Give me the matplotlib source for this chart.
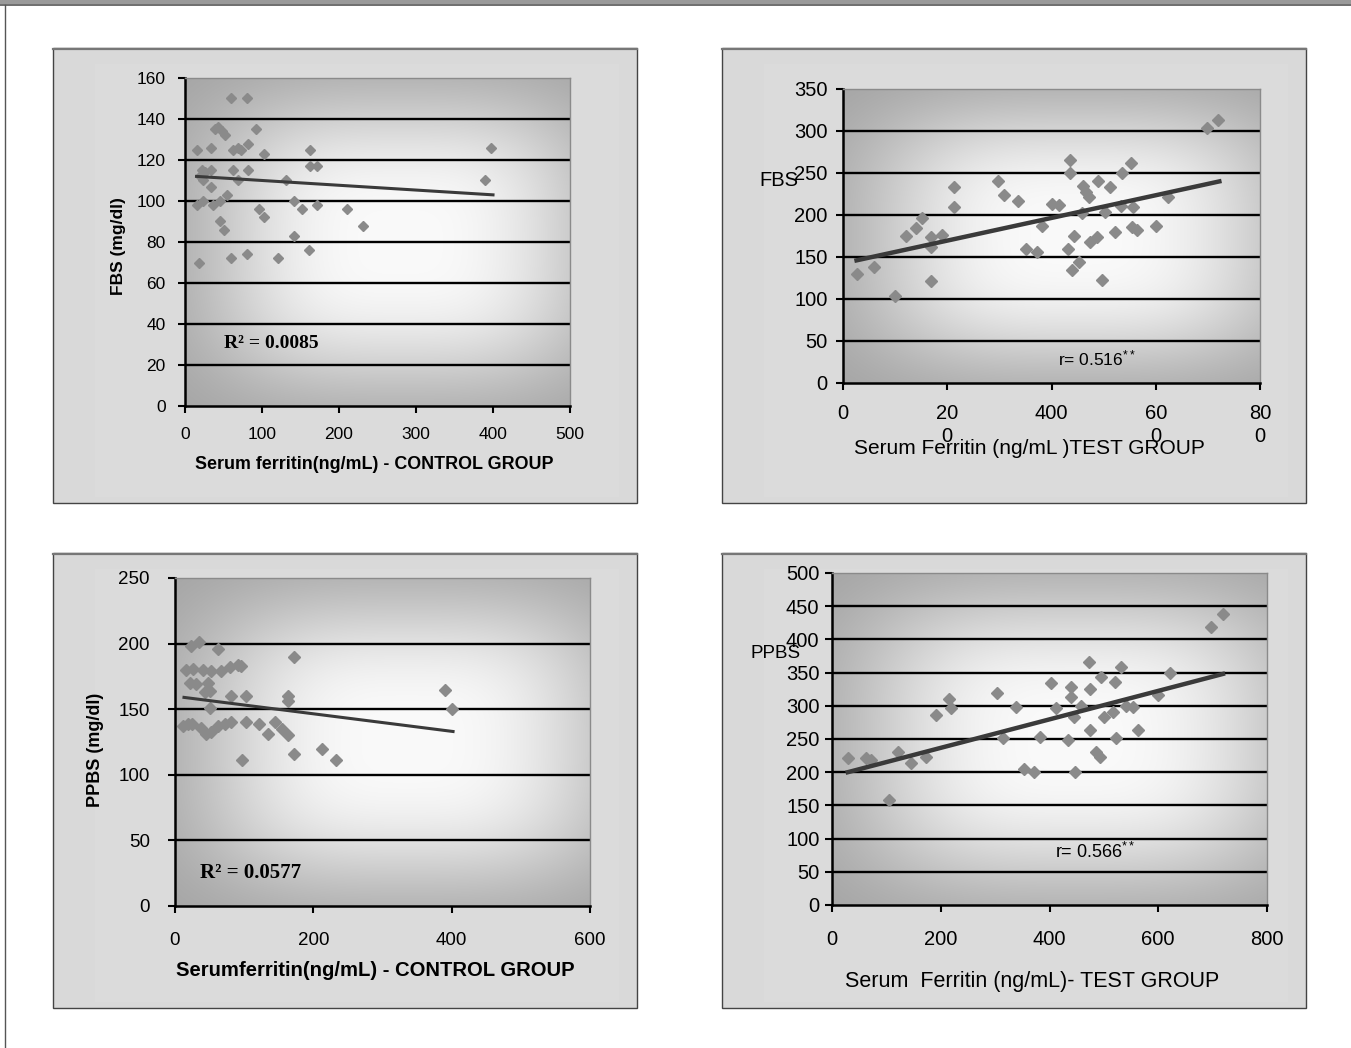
import numpy as np
import matplotlib
matplotlib.use('Agg')
import matplotlib.pyplot as plt
from matplotlib.patches import Rectangle
from matplotlib.lines import Line2D

# ---------------- data ----------------
ctrl_fbs_ferritin = [60, 80, 39, 43, 48, 52, 92,
                     16, 34, 62, 69, 73, 82, 102, 162, 398,
                     22, 26, 34, 62, 82, 162, 171,
                     20, 24, 34, 69, 131, 390,
                     16, 24, 36, 46, 54, 142, 152, 171, 211, 96, 102,
                     46, 50, 231, 142, 161, 18, 60, 80, 121]
ctrl_fbs = [150, 150, 135, 136, 134, 132, 135,
            125, 126, 125, 126, 125, 128, 123, 125, 126,
            115, 114, 115, 115, 115, 117, 117,
            112, 110, 107, 110, 110, 110,
            98, 100, 98, 100, 103, 100, 96, 98, 96, 96, 92,
            90, 86, 88, 83, 76, 70, 72, 74, 72]
ctrl_fbs_trend_x = [15, 400]
ctrl_fbs_trend_y = [112, 103]

test_fbs_ferritin = [26, 60, 100, 121, 141, 152, 168, 168, 189, 168,
                     212, 212, 298, 308, 335, 351, 372, 381, 400, 415,
                     436, 436, 432, 444, 452, 439, 461, 466, 472, 490,
                     512, 502, 474, 487, 522, 535, 553, 533, 556, 554,
                     564, 600, 623, 496, 698, 720, 458]
test_fbs = [130, 138, 103, 175, 184, 196, 174, 162, 176, 121,
            233, 210, 240, 224, 217, 160, 156, 187, 213, 212,
            265, 250, 160, 175, 144, 134, 234, 227, 222, 240,
            233, 203, 168, 174, 180, 250, 262, 211, 210, 186,
            182, 187, 222, 123, 303, 313, 202]
test_fbs_trend_x = [26, 722]
test_fbs_trend_y = [146, 240]

ctrl_ppbs_ferritin = [23, 34, 62, 172,
                      16, 26, 40, 52, 67, 79, 91, 96,
                      21, 31, 47, 50, 44, 81, 102, 164, 164, 391, 400, 50,
                      12, 19, 24, 38, 45, 52, 62, 72, 81, 102, 122, 134, 144, 154, 163,
                      97, 172, 212, 233]
ctrl_ppbs = [198, 201, 196, 190,
             180, 181, 180, 179, 179, 182, 184, 183,
             170, 169, 170, 164, 163, 160, 160, 160, 156, 165, 150, 151,
             137, 139, 139, 136, 131, 133, 137, 139, 140, 140, 139, 131, 140, 135, 130,
             111, 116, 120, 111]
ctrl_ppbs_trend_x = [13, 402]
ctrl_ppbs_trend_y = [159, 133]

test_ppbs_ferritin = [29, 63, 72, 105, 121, 146, 173, 192, 216, 218,
                      304, 314, 338, 354, 372, 382, 402, 412, 439, 439,
                      434, 446, 445, 472, 474, 474, 492, 486, 495, 521,
                      532, 501, 522, 516, 553, 562, 622, 599, 697, 719,
                      541, 458]
test_ppbs = [222, 222, 218, 158, 230, 214, 223, 286, 310, 296,
             319, 251, 298, 205, 200, 253, 335, 297, 329, 313,
             248, 201, 283, 366, 326, 263, 223, 231, 344, 336,
             358, 283, 252, 291, 298, 263, 350, 316, 418, 438,
             300, 300]
test_ppbs_trend_x = [29, 719]
test_ppbs_trend_y = [200, 348]

tl_xticks = [0, 100, 200, 300, 400, 500]
tl_yticks = [0, 20, 40, 60, 80, 100, 120, 140, 160]
tr_xticks = [0, 200, 400, 600, 800]
tr_xticklabels = ['0', '20\n0', '400', '60\n0', '80\n0']
tr_yticks = [0, 50, 100, 150, 200, 250, 300, 350]
bl_xticks = [0, 200, 400, 600]
bl_yticks = [0, 50, 100, 150, 200, 250]
br_xticks = [0, 200, 400, 600, 800]
br_yticks = [0, 50, 100, 150, 200, 250, 300, 350, 400, 450, 500]

# ---------------- figure ----------------
W, H = 1351, 1048
fig = plt.figure(figsize=(W / 100, H / 100), dpi=100)
fig.patch.set_facecolor('white')
plt.rcParams['mathtext.fontset'] = 'custom'
plt.rcParams['mathtext.rm'] = 'Liberation Sans'
plt.rcParams['mathtext.it'] = 'Liberation Sans'

SANS = 'Liberation Sans'
SERIF = 'Liberation Serif'


def fx(x):
    return x / W


def fy(y):
    return 1 - y / H


# page decoration
fig.patches.append(Rectangle((0, fy(4)), 1, 4 / H, transform=fig.transFigure,
                             facecolor='#9a9a9a', edgecolor='none', zorder=-5))
fig.lines.append(Line2D([0, 1], [fy(4.5)] * 2, transform=fig.transFigure, color='#555555', lw=1.2,
                        zorder=-4))
fig.lines.append(Line2D([fx(5.5)] * 2, [fy(4.5), 0], transform=fig.transFigure, color='#555555',
                        lw=1.0, zorder=-4))


def panel_box(x0, y0, x1, y1):
    fig.patches.append(Rectangle((fx(x0), fy(y1)), (x1 - x0) / W, (y1 - y0) / H,
                                 transform=fig.transFigure, facecolor='#d9d9d9',
                                 edgecolor='#444444', lw=1.0, zorder=-3))
    fig.lines.append(Line2D([fx(x0), fx(x1)], [fy(y0 + 0.5)] * 2, transform=fig.transFigure,
                            color='#777777', lw=1.6, zorder=-2))
    fig.patches.append(Rectangle((fx(x0 + 42), fy(y1 - 6)), (x1 - x0 - 60) / W, (y1 - y0 - 22) / H,
                                 transform=fig.transFigure, facecolor='#dbdbdb',
                                 edgecolor='none', zorder=-2))


def gradient(ax):
    u = np.linspace(0, 1, 400)
    v = np.linspace(0, 1, 400)
    U, V = np.meshgrid(u, v)
    dx = (U - 0.56) / 0.56
    dy = (V - 0.5) / 0.5
    p = 3.2
    d = (np.abs(dx) ** p + np.abs(dy) ** p) ** (1 / p)
    c = (250 - 88 * (1 - np.exp(-1.5 * d ** 3))) / 255.0
    img = np.dstack([c, c, c])
    ax.imshow(img, extent=[0, 1, 0, 1], transform=ax.transAxes, aspect='auto',
              zorder=0, interpolation='bilinear')


def make_axes(l, t, r, b, xlim, ylim, xticks, yticks, fs, xpad, ypad, xlabels=None):
    ax = fig.add_axes([fx(l), fy(b), (r - l) / W, (b - t) / H])
    gradient(ax)
    ax.set_xlim(*xlim)
    ax.set_ylim(*ylim)
    ax.set_xticks(xticks)
    if xlabels is not None:
        ax.set_xticklabels(xlabels)
    ax.set_yticks(yticks)
    for yv in yticks[1:-1]:
        ax.axhline(yv, color='black', lw=1.7, zorder=1)
    for s in ('left', 'bottom'):
        ax.spines[s].set_color('black')
        ax.spines[s].set_linewidth(1.8)
    for s in ('top', 'right'):
        ax.spines[s].set_color('#8a8a8a')
        ax.spines[s].set_linewidth(1.0)
    ax.tick_params(axis='both', direction='out', length=5, width=1.5, color='black',
                   labelsize=fs, labelcolor='black')
    ax.tick_params(axis='x', pad=xpad)
    ax.tick_params(axis='y', pad=ypad)
    for lab in ax.get_xticklabels() + ax.get_yticklabels():
        lab.set_fontfamily(SANS)
    return ax


MK = '#8a8a8a'
LN = '#3a3a3a'

# ---------- top-left ----------
panel_box(53, 48, 637, 503)
ax1 = make_axes(185, 78, 570, 406, (0, 500), (0, 160), tl_xticks, tl_yticks, 12.5, 10, 9)
ax1.plot(ctrl_fbs_ferritin, ctrl_fbs, 'D', ms=5, color=MK, mec=MK, zorder=3)
ax1.plot(ctrl_fbs_trend_x, ctrl_fbs_trend_y, color=LN, lw=2.2, zorder=4)
fig.text(fx(374), fy(464), 'Serum ferritin(ng/mL) - CONTROL GROUP', ha='center', va='center',
         fontsize=12.9, fontweight='bold', family=SANS)
fig.text(fx(118), fy(246), 'FBS (mg/dl)', ha='center', va='center', rotation=90,
         fontsize=12.5, fontweight='bold', family=SANS)
fig.text(fx(224), fy(343), 'R\u00b2 = 0.0085', ha='left', va='center',
         fontsize=14, fontweight='bold', family=SERIF)

# ---------- top-right ----------
panel_box(722, 48, 1306, 503)
ax2 = make_axes(843, 89, 1260, 383, (0, 800), (0, 350), tr_xticks, tr_yticks, 14.5, 10, 6,
                xlabels=tr_xticklabels)
for lab in ax2.get_xticklabels():
    lab.set_linespacing(1.3)
    lab.set_verticalalignment('top')
ax2.plot(test_fbs_ferritin, test_fbs, 'D', ms=6.5, color=MK, mec=MK, zorder=3)
ax2.plot(test_fbs_trend_x, test_fbs_trend_y, color=LN, lw=3.2, zorder=4)
fig.text(fx(759), fy(181), 'FBS', ha='left', va='center', fontsize=14.5, family=SANS)
fig.text(fx(1029), fy(449), 'Serum Ferritin (ng/mL )TEST GROUP', ha='center', va='center',
         fontsize=15, family=SANS)
fig.text(fx(1058), fy(358), r'r= 0.516$^{**}$', ha='left', va='center', fontsize=12.5, family=SANS)

# ---------- bottom-left ----------
panel_box(53, 553, 637, 1008)
ax3 = make_axes(175, 578, 590, 906, (0, 600), (0, 250), bl_xticks, bl_yticks, 13.5, 14, 13)
ax3.plot(ctrl_ppbs_ferritin, ctrl_ppbs, 'D', ms=6, color=MK, mec=MK, zorder=3)
ax3.plot(ctrl_ppbs_trend_x, ctrl_ppbs_trend_y, color=LN, lw=2.2, zorder=4)
fig.text(fx(375), fy(970), 'Serumferritin(ng/mL) - CONTROL GROUP', ha='center', va='center',
         fontsize=14.6, fontweight='bold', family=SANS)
fig.text(fx(96), fy(750), 'PPBS (mg/dl)', ha='center', va='center', rotation=90,
         fontsize=13, fontweight='bold', family=SANS)
fig.text(fx(200), fy(873), 'R\u00b2 = 0.0577', ha='left', va='center',
         fontsize=15, fontweight='bold', family=SERIF)

# ---------- bottom-right ----------
panel_box(722, 553, 1306, 1008)
ax4 = make_axes(832, 573, 1267, 905, (0, 800), (0, 500), br_xticks, br_yticks, 14.5, 13, 4)
ax4.plot(test_ppbs_ferritin, test_ppbs, 'D', ms=6.5, color=MK, mec=MK, zorder=3)
ax4.plot(test_ppbs_trend_x, test_ppbs_trend_y, color=LN, lw=3.2, zorder=4)
fig.text(fx(750), fy(653), 'PPBS', ha='left', va='center', fontsize=13.5, family=SANS)
fig.text(fx(1032), fy(981), 'Serum  Ferritin (ng/mL)- TEST GROUP', ha='center', va='center',
         fontsize=15.5, family=SANS)
fig.text(fx(1055), fy(852), r'r= 0.566$^{**}$', ha='left', va='center', fontsize=13, family=SANS)

fig.savefig('out.png', dpi=100, facecolor='white')
